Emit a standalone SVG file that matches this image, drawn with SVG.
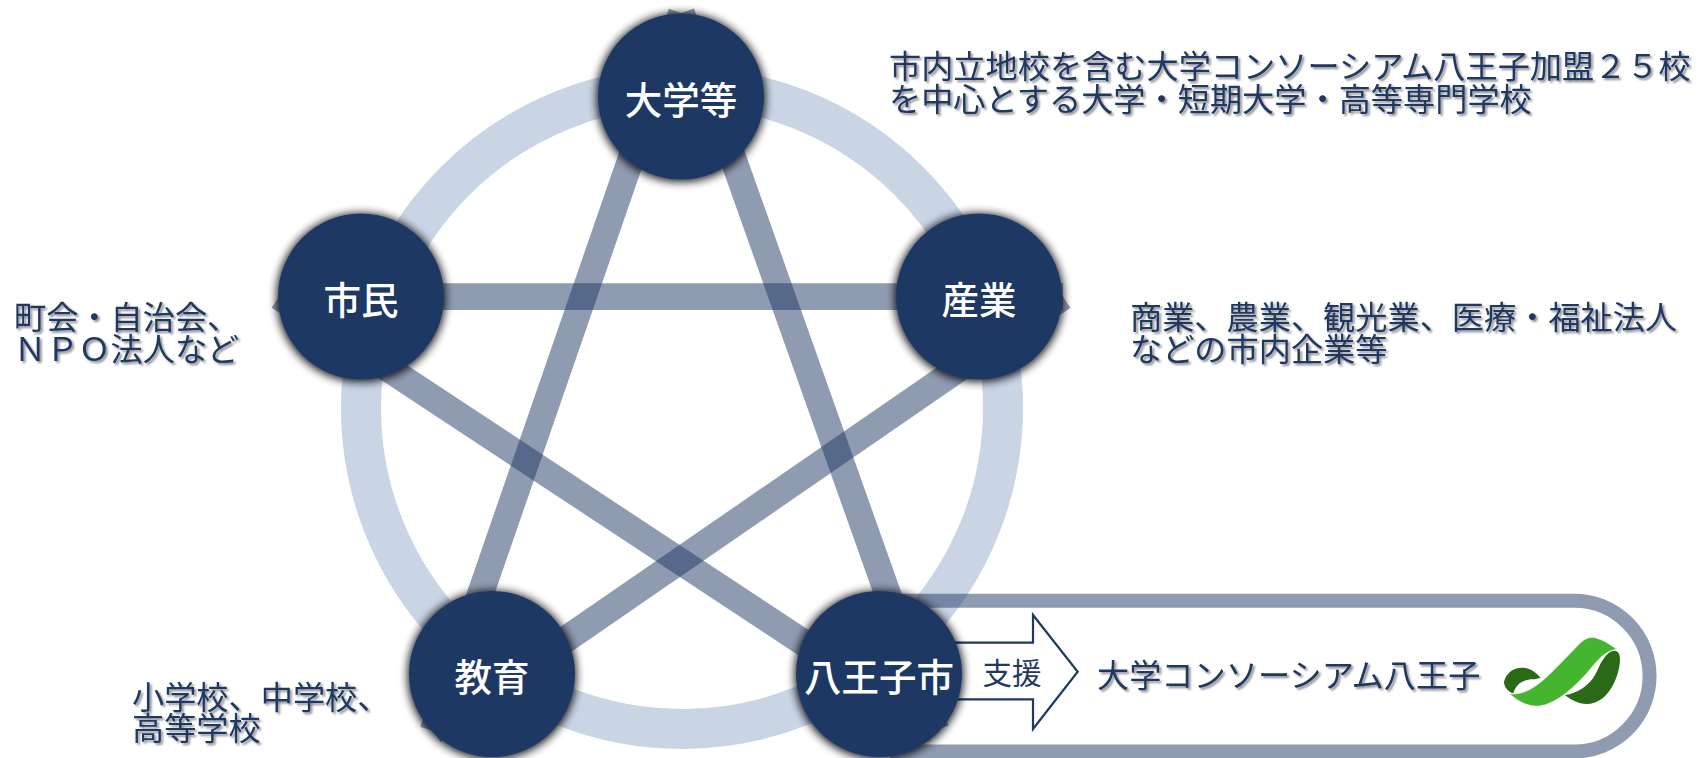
<svg xmlns="http://www.w3.org/2000/svg" width="1707" height="758" viewBox="0 0 1707 758">
<defs>
<filter id="nodeShadow" x="-30%" y="-30%" width="160%" height="160%">
<feMorphology in="SourceAlpha" operator="dilate" radius="1"/>
<feGaussianBlur stdDeviation="5"/>
<feOffset dx="0" dy="1"/>
<feComponentTransfer><feFuncA type="linear" slope="0.95"/></feComponentTransfer>
<feMerge><feMergeNode/><feMergeNode in="SourceGraphic"/></feMerge>
</filter>
<filter id="textShadow" x="-5%" y="-20%" width="110%" height="150%"><feDropShadow dx="2" dy="2" stdDeviation="1.3" flood-color="#000" flood-opacity="0.45"/></filter>
</defs>
<style>
text{font-family:"Noto Sans CJK JP","Noto Sans",sans-serif;}
.link{fill:none;stroke:#1f3864;stroke-width:26.7;stroke-opacity:.5;}
.node{fill:#1f3864;filter:url(#nodeShadow);}
.label{fill:#fff;font-size:37.5px;font-weight:500;text-anchor:middle;}
.note{fill:#1f3864;font-size:32.2px;filter:url(#textShadow);}
</style>
<g id="connectors">
<circle cx="682" cy="408" r="321" fill="none" stroke="#c9d4e5" stroke-width="40"/>
<path class="link" style="stroke-width:14" d="M890 600.7H1574.2A75.4 75.4 0 0 1 1574.2 751.5H890"/>
<line class="link" x1="681.4" y1="13" x2="433" y2="731"/>
<line class="link" x1="681.4" y1="13" x2="936" y2="730"/>
<line class="link" x1="279" y1="296.7" x2="1063" y2="296.7"/>
<line class="link" x1="279" y1="296.7" x2="936" y2="730"/>
<line class="link" x1="433" y1="731" x2="1063" y2="296.7"/>
</g>
<g id="arrow-support">
<path d="M940 642.7H1033V615L1077.7 671.7L1033 729V699.3H940Z" fill="#fff" stroke="#1f3864" stroke-width="2.2"/>
<text x="1012" y="684" fill="#1f3864" font-size="29.5" text-anchor="middle">支援</text>
</g>
<g id="node-daigaku"><circle class="node" cx="681" cy="96.5" r="83"/><text class="label" x="681" y="114">大学等</text></g>
<g id="node-sangyo"><circle class="node" cx="979" cy="296.5" r="83"/><text class="label" x="979" y="314">産業</text></g>
<g id="node-shimin"><circle class="node" cx="361" cy="296.5" r="83"/><text class="label" x="361" y="314">市民</text></g>
<g id="node-kyoiku"><circle class="node" cx="492" cy="674" r="83"/><text class="label" x="492" y="691">教育</text></g>
<g id="node-hachioji"><circle class="node" cx="879" cy="674" r="83"/><text class="label" x="879" y="691">八王子市</text></g>
<g id="notes">
<text class="note"><tspan x="889" y="78">市内立地校を含む大学コンソーシアム八王子加盟２５校</tspan><tspan x="889" y="111">を中心とする大学・短期大学・高等専門学校</tspan></text>
<text class="note"><tspan x="1130" y="329">商業、農業、観光業、医療・福祉法人</tspan><tspan x="1130" y="361">などの市内企業等</tspan></text>
<text class="note"><tspan x="14" y="329">町会・自治会、</tspan><tspan x="14" y="361">ＮＰＯ法人など</tspan></text>
<text class="note"><tspan x="132" y="709">小学校、中学校、</tspan><tspan x="132" y="740">高等学校</tspan></text>
</g>
<g id="node-consortium">
<text class="note" x="1097" y="687">大学コンソーシアム八王子</text>
<g id="logo" transform="translate(1400 580) scale(.3333)">
<path fill="#2a6a17" d="M312 305C318 280 340 263 365 263C390 263 408 278 422 293L405 298C380 296 350 305 340 340C325 335 312 322 312 305Z"/>
<path fill="#2a6a17" d="M610 238C620 222 632 212 645 212C657 214 660 225 660 240C658 290 625 372 560 372C535 372 510 358 495 345C530 340 565 320 585 285C595 268 600 250 610 238Z"/>
<path fill="#45b42e" stroke="#e4f2de" stroke-width="2" d="M330 342C370 345 400 325 430 300C470 265 505 225 540 190C555 175 570 170 585 173C610 180 630 192 650 208C620 212 600 232 575 262C540 305 490 355 440 373C400 388 360 370 330 342Z"/>
</g>
</g>
</svg>
